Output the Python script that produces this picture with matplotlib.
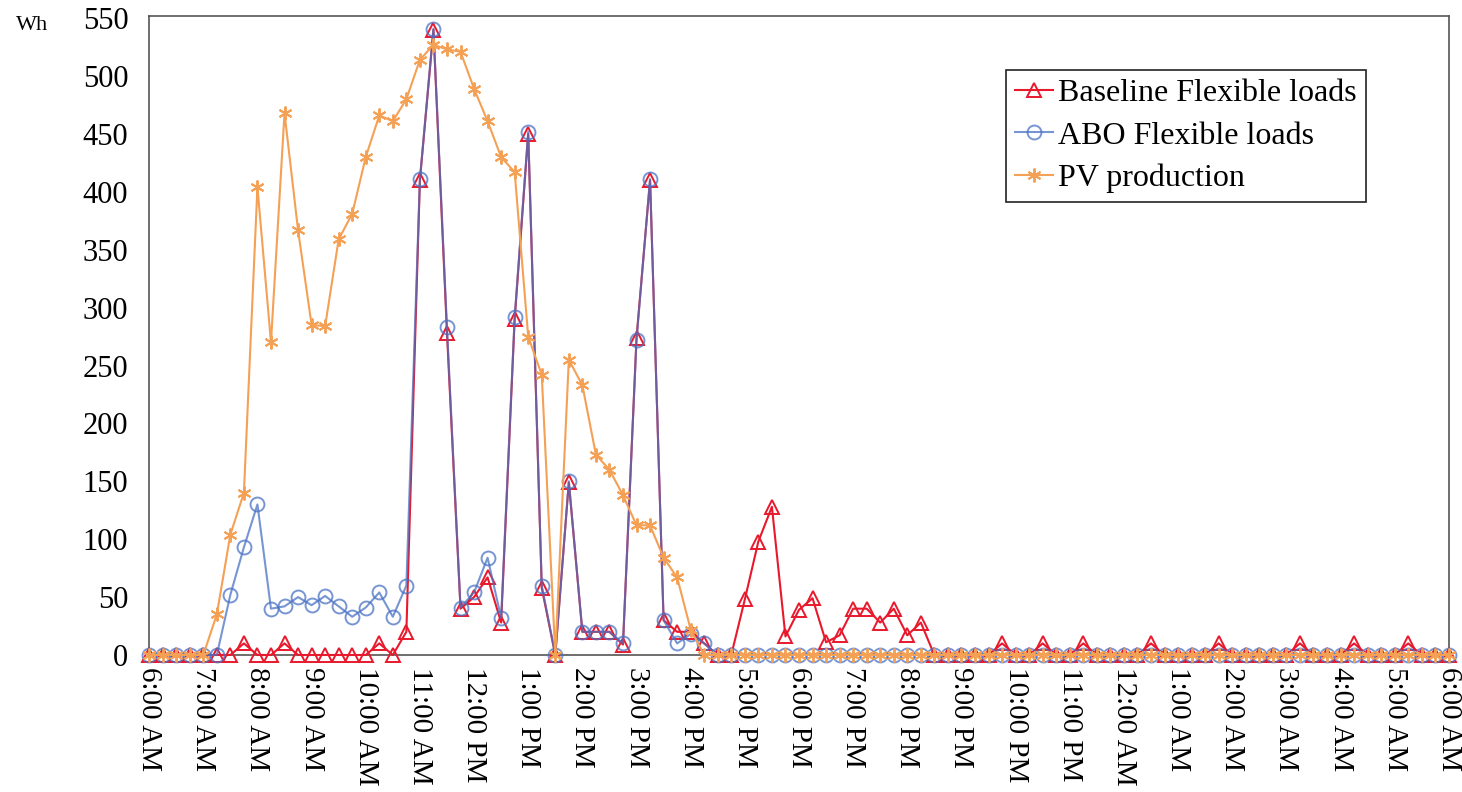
import matplotlib
matplotlib.use("Agg")
import matplotlib.pyplot as plt

# 15-minute steps from 6:00 AM to 6:00 AM next day (97 points)
baseline = [
    0, 0, 0, 0, 0, 0, 0, 10, 0, 0,
    10, 0, 0, 0, 0, 0, 0, 10, 0, 20,
    410, 540, 278, 40, 50, 67, 28, 290, 450, 58,
    0, 149, 20, 20, 20, 9, 274, 410, 30, 20,
    20, 10, 0, 0, 48, 98, 128, 16, 39, 49,
    11, 17, 40, 40, 28, 40, 17, 28, 0, 0,
    0, 0, 0, 10, 0, 0, 10, 0, 0, 10,
    0, 0, 0, 0, 10, 0, 0, 0, 0, 10,
    0, 0, 0, 0, 0, 10, 0, 0, 0, 10,
    0, 0, 0, 10, 0, 0, 0,
]
abo = [
    0, 0, 0, 0, 0, 0, 52, 93, 130, 40,
    42, 50, 43, 51, 42, 33, 41, 54, 33, 60,
    411, 541, 283, 41, 54, 84, 32, 292, 452, 60,
    0, 150, 20, 20, 20, 10, 272, 411, 30, 10,
    18, 10, 0, 0, 0, 0, 0, 0, 0, 0,
    0, 0, 0, 0, 0, 0, 0, 0, 0, 0,
    0, 0, 0, 0, 0, 0, 0, 0, 0, 0,
    0, 0, 0, 0, 0, 0, 0, 0, 0, 0,
    0, 0, 0, 0, 0, 0, 0, 0, 0, 0,
    0, 0, 0, 0, 0, 0, 0,
]
pv = [
    0, 0, 0, 0, 0, 35, 104, 140, 404, 270,
    468, 367, 285, 284, 359, 381, 430, 466, 461, 480,
    514, 527, 523, 521, 489, 461, 430, 417, 275, 242,
    0, 255, 233, 173, 160, 138, 112, 112, 84, 67,
    22, 0, 0, 0, 0, 0, 0, 0, 0, 0,
    0, 0, 0, 0, 0, 0, 0, 0, 0, 0,
    0, 0, 0, 0, 0, 0, 0, 0, 0, 0,
    0, 0, 0, 0, 0, 0, 0, 0, 0, 0,
    0, 0, 0, 0, 0, 0, 0, 0, 0, 0,
    0, 0, 0, 0, 0, 0, 0,
]
hour_labels = [
    "6:00 AM", "7:00 AM", "8:00 AM", "9:00 AM", "10:00 AM", "11:00 AM",
    "12:00 PM", "1:00 PM", "2:00 PM", "3:00 PM", "4:00 PM", "5:00 PM",
    "6:00 PM", "7:00 PM", "8:00 PM", "9:00 PM", "10:00 PM", "11:00 PM",
    "12:00 AM", "1:00 AM", "2:00 AM", "3:00 AM", "4:00 AM", "5:00 AM",
    "6:00 AM",
]
y_ticks = [0, 50, 100, 150, 200, 250, 300, 350, 400, 450, 500, 550]

RED = "#E8192C"
BLUE = "#4A72C4"
ORANGE = "#F4A055"

plt.rcParams["font.family"] = "Liberation Serif"

fig = plt.figure(figsize=(14.62, 7.92), dpi=100)
ax = fig.add_axes([0.102, 0.173, 0.889, 0.807])

x = list(range(len(pv)))
ax.plot(x, baseline, color=RED, lw=1.5, marker="^", ms=10, mfc="none",
        mec=RED, mew=1.4, label="Baseline Flexible loads", clip_on=False, zorder=3)
ax.plot(x, abo, color=BLUE, lw=1.5, marker="o", ms=10, mfc="none",
        mec=BLUE, mew=1.4, alpha=0.75, label="ABO Flexible loads", clip_on=False, zorder=4)
ax.plot(x, pv, color=ORANGE, lw=1.5, marker=(6, 2, 0), ms=10,
        mec=ORANGE, mew=1.4, label="PV production", clip_on=False, zorder=5)

ax.set_xlim(0, 96)
ax.set_ylim(0, 552)
ax.set_xticks(range(0, 97, 4))
ax.set_xticklabels(hour_labels, rotation=270, fontsize=21)
ax.set_yticks(y_ticks)
ax.set_yticklabels([str(v) for v in y_ticks], fontsize=22)
ax.tick_params(axis="x", length=0, pad=9)
ax.tick_params(axis="y", length=0, pad=15)
for s in ax.spines.values():
    s.set_color("#555555")
    s.set_linewidth(1.2)

fig.text(0.022, 0.968, "Wh", fontsize=16, ha="center", va="center")

leg = ax.legend(loc="upper right", bbox_to_anchor=(0.936, 0.915), borderaxespad=0,
                fontsize=23, frameon=True, fancybox=False, edgecolor="#222222",
                framealpha=1, handlelength=1.2, labelspacing=0.4, borderpad=0.28,
                handletextpad=0.15)
leg.get_frame().set_linewidth(1.2)

fig.savefig("out.png", dpi=100, facecolor="white")
